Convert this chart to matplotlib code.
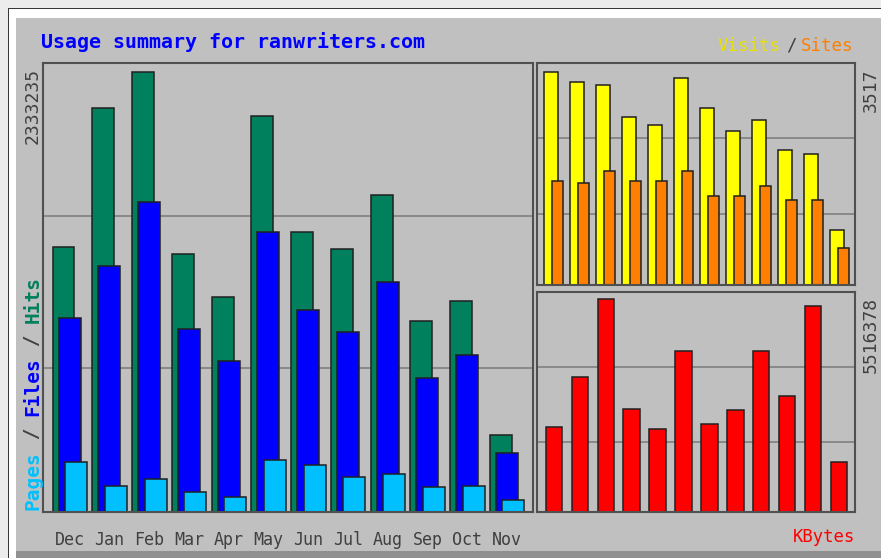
import matplotlib
matplotlib.use('Agg')
import matplotlib.pyplot as plt
from matplotlib.patches import Rectangle
import numpy as np

# ---------------- data ----------------
months = ['Dec', 'Jan', 'Feb', 'Mar', 'Apr', 'May', 'Jun', 'Jul', 'Aug', 'Sep', 'Oct', 'Nov']
hits = [1405000, 2142000, 2333235, 1368000, 1140000, 2100000, 1485000, 1395000, 1681000, 1013000, 1119000, 408000]
files = [1029000, 1304000, 1644000, 970000, 801000, 1485000, 1071000, 955000, 1220000, 711000, 833000, 313000]
pages = [267000, 138000, 175000, 108000, 81000, 276000, 249000, 187000, 202000, 131000, 139000, 64000]
visits = [3517, 3341, 3297, 2771, 2634, 3408, 2911, 2540, 2728, 2220, 2154, 906]
sites = [1723, 1685, 1872, 1723, 1723, 1872, 1474, 1463, 1640, 1403, 1403, 608]
kbytes = [2204000, 3501000, 5516378, 2656000, 2145000, 4168000, 2267000, 2638000, 4168000, 3001000, 5343000, 1297000]

title = 'Usage summary for ranwriters.com'

C_HITS, C_FILES, C_PAGES = '#00805c', '#0000ff', '#00c0ff'
C_VISITS, C_SITES, C_KB = '#ffff00', '#ff8000', '#ff0000'
GRAY = '#c0c0c0'
TXT = '#404040'
EDGE = '#202020'
MONO = 'DejaVu Sans Mono'

W, H = 881, 558
fig = plt.figure(figsize=(W / 100, H / 100), dpi=100, facecolor='#ececec')


def fx(px):
    return px / W


def fy(py):
    return 1 - py / H


def rect(x0, y0, x1, y1, color):
    fig.add_artist(Rectangle((fx(x0), fy(y1)), (x1 - x0) / W, (y1 - y0) / H,
                             transform=fig.transFigure, facecolor=color,
                             edgecolor='none', zorder=-10))


# frame
rect(8, 8, W, H, '#383838')
rect(9, 9, W, H, '#ffffff')
rect(16, 18, W, H, '#909090')
rect(16, 18, W, 551, GRAY)


def style(ax, top, fracs=(0.32, 0.66)):
    ax.set_facecolor(GRAY)
    ax.set_ylim(0, top)
    ax.set_yticks([top * f for f in fracs])
    ax.yaxis.grid(True, color='#808080', lw=1.2)
    ax.set_axisbelow(True)
    ax.tick_params(left=False, labelleft=False, bottom=False, labelbottom=False)
    for s in ax.spines.values():
        s.set_color('#505050')
        s.set_linewidth(1.5)


# ---------------- left: hits / files / pages ----------------
ax1 = fig.add_axes([fx(43), fy(512), 490 / W, 449 / H])
x = np.arange(len(months))
bw = 0.553
ax1.bar(x, hits, width=bw, align='edge', color=C_HITS, edgecolor=EDGE, lw=1.1)
ax1.bar(x + 0.151, files, width=bw, align='edge', color=C_FILES, edgecolor=EDGE, lw=1.1)
ax1.bar(x + 0.314, pages, width=bw, align='edge', color=C_PAGES, edgecolor=EDGE, lw=1.1)
ax1.set_xlim(-0.239, -0.239 + 490 / 39.77)
style(ax1, max(hits) * 449 / 440)
ax1.tick_params(labelbottom=True, pad=10)
ax1.set_xticks(x + 0.433)
ax1.set_xticklabels(months, family=MONO, fontsize=12, color=TXT)

# ---------------- right top: visits / sites ----------------
ax2 = fig.add_axes([fx(537), fy(285), 318 / W, 222 / H])
ax2.bar(x, visits, width=0.558, align='edge', color=C_VISITS, edgecolor=EDGE, lw=1.1)
ax2.bar(x + 0.308, sites, width=0.46, align='edge', color=C_SITES, edgecolor=EDGE, lw=1.1)
ax2.set_xlim(-0.25, -0.25 + 318 / 26)
style(ax2, max(visits) * 222 / 213.3)

# ---------------- right bottom: kbytes ----------------
ax3 = fig.add_axes([fx(537), fy(512), 318 / W, 220 / H])
ax3.bar(x, kbytes, width=0.637, align='edge', color=C_KB, edgecolor=EDGE, lw=1.1)
ax3.set_xlim(-0.336, -0.336 + 318 / 25.9)
style(ax3, max(kbytes) * 220 / 213)

# ---------------- texts ----------------
fig.text(fx(41), fy(42), title, family=MONO, weight='bold', fontsize=14.4,
         color='#0000ff', ha='left', va='center')

fig.text(fx(718), fy(46), 'Visits', family=MONO, fontsize=12.6, color='#e8e000',
         ha='left', va='center')
fig.text(fx(786), fy(46), '/', family=MONO, fontsize=12.6, color=TXT,
         ha='left', va='center')
fig.text(fx(801), fy(46), 'Sites', family=MONO, fontsize=12.6, color=C_SITES,
         ha='left', va='center')
fig.text(fx(855), fy(537), 'KBytes', family=MONO, fontsize=12.4, color=C_KB,
         ha='right', va='center')

# rotated max labels
for px, py, s in [(33, 68, str(max(hits))), (871, 68, str(max(visits))),
                  (871, 297, str(max(kbytes)))]:
    fig.text(fx(px), fy(py), s, family=MONO, fontsize=13, color=TXT,
             rotation=90, rotation_mode='anchor', ha='right', va='center')

# Pages / Files / Hits (rotated, multi-coloured)
adv = 0.602 * 14 * 100 / 72
pieces = [('Pages', C_PAGES, 0), (' / ', TXT, 5), ('Files', C_FILES, 8),
          (' / ', TXT, 13), ('Hits', C_HITS, 16)]
for s, c, off in pieces:
    fig.text(fx(33), fy(510 - off * adv), s, family=MONO, weight='bold', fontsize=14,
             color=c, rotation=90, rotation_mode='anchor', ha='left', va='center')

fig.savefig('out.png', dpi=100, facecolor=fig.get_facecolor())
